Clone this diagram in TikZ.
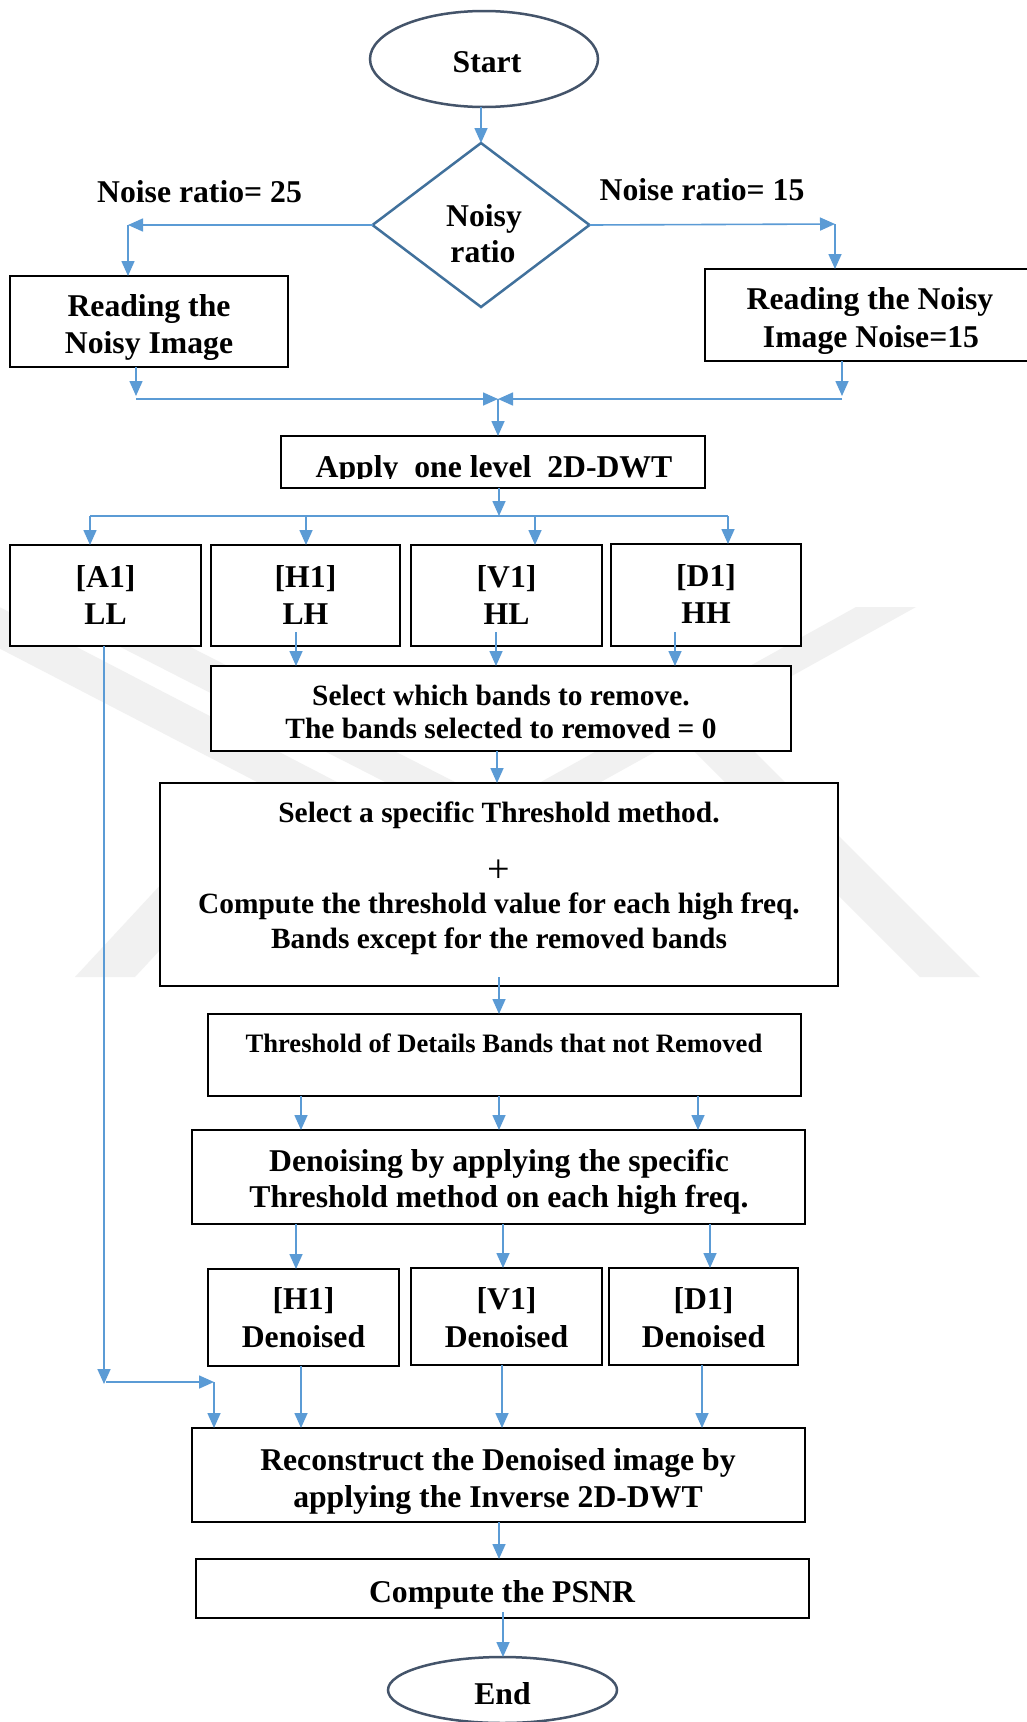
\documentclass[tikz,border=0pt]{standalone}
\usepackage{fontspec}
\setmainfont{Liberation Serif}
\usetikzlibrary{arrows.meta,shapes.geometric}

\definecolor{flowblue}{HTML}{5B9BD5}
\definecolor{ovalline}{HTML}{44546A}
\definecolor{decline}{HTML}{41719C}
\definecolor{wmgray}{HTML}{F1F1F1}

\newcommand{\szmain}{\fontsize{31.7}{37}\selectfont}
\newcommand{\szsel}{\fontsize{29.4}{34}\selectfont}
\newcommand{\szdet}{\fontsize{26.6}{31}\selectfont}
\newcommand{\szplus}{\fontsize{40}{44}\selectfont}

\begin{document}
\begin{tikzpicture}[x=1pt,y=-1pt,
  box/.style={draw=black, line width=2.4pt, fill=white, inner sep=0pt, outer sep=0pt},
  oval/.style={ellipse, draw=ovalline, line width=2.5pt, fill=white, inner sep=0pt, outer sep=0pt},
  decision/.style={diamond, draw=decline, line width=2.5pt, fill=white, inner sep=0pt, outer sep=0pt},
  txt/.style={font=\bfseries\szmain, inner sep=0pt, anchor=base},
  seltxt/.style={txt, font=\bfseries\szsel},
  dettxt/.style={txt, font=\bfseries\szdet},
  plustxt/.style={txt, font=\mdseries\szplus},
  flow/.style={draw=flowblue, line width=1.6pt, -{Triangle[length=15pt,width=13pt]}},
  flowline/.style={draw=flowblue, line width=1.6pt},
  wm/.style={fill=wmgray, draw=none}]

\useasboundingbox (0,0) rectangle (1026,1722);
\fill[white] (0,0) rectangle (1026,1722);

% faint background emblem
\fill[wm] (-94,600) -- (-14,600) -- (339,783) -- (259,783) -- cycle;
\fill[wm] (42,607) -- (112,607) -- (457,783) -- (387,783) -- cycle;
\fill[wm] (75,977) -- (135,977) -- (315,783) -- (255,783) -- cycle;
\fill[wm] (856,607) -- (916,607) -- (599,783) -- (539,783) -- cycle;
\fill[wm] (694,751) -- (754,751) -- (980,977) -- (920,977) -- cycle;

% terminals and decision
\node[oval, minimum width=228pt, minimum height=96pt] (start) at (484,59) {};
\node[decision, minimum width=217pt, minimum height=164pt] (ratio) at (481,225) {};
\node[oval, minimum width=229pt, minimum height=66pt] (end) at (502.5,1690) {};

% process boxes
\node[box, minimum width=278pt, minimum height=91pt] (readL) at (149,321.5) {};
\node[box, minimum width=325pt, minimum height=92pt] (readR) at (867.5,315) {};
\node[box, minimum width=424pt, minimum height=52pt] (apply) at (493,462) {};
\node[box, minimum width=191pt, minimum height=101pt] (bA) at (105.5,595.5) {};
\node[box, minimum width=189pt, minimum height=101pt] (bH) at (305.5,595.5) {};
\node[box, minimum width=191pt, minimum height=101pt] (bV) at (506.5,595.5) {};
\node[box, minimum width=190pt, minimum height=102pt] (bD) at (706,595) {};
\node[box, minimum width=580pt, minimum height=85pt] (sel) at (501,708.5) {};
\node[box, minimum width=678pt, minimum height=203pt] (thr) at (499,884.5) {};
\node[box, minimum width=593pt, minimum height=82pt] (det) at (504.5,1055) {};
\node[box, minimum width=613pt, minimum height=94pt] (den) at (498.5,1177) {};
\node[box, minimum width=191pt, minimum height=97pt] (dH) at (303.5,1317.5) {};
\node[box, minimum width=191pt, minimum height=97pt] (dV) at (506.5,1316.5) {};
\node[box, minimum width=189pt, minimum height=97pt] (dD) at (703.5,1316.5) {};
\node[box, minimum width=613pt, minimum height=94pt] (rec) at (498.5,1475) {};
\node[box, minimum width=613pt, minimum height=59pt] (psnr) at (502.5,1588.5) {};

% texts
\node[txt] (tStart) at (487,72) {Start};
\node[txt] (tRatioA) at (484,226) {Noisy};
\node[txt] (tRatioB) at (483,262) {ratio};
\node[txt] (t25) at (199.5,202) {Noise ratio= 25};
\node[txt] (t15) at (702,200) {Noise ratio= 15};
\node[txt] (tReadLA) at (149,316) {Reading the};
\node[txt] (tReadLB) at (149,353) {Noisy Image};
\node[txt] (tReadRA) at (870,309) {Reading the Noisy};
\node[txt] (tReadRB) at (871,347) {Image Noise=15};
\begin{scope}
  \clip (281,440) rectangle (705,478);
  \node[txt] (tApply) at (494,477) {Apply\ \ one level\ \ 2D-DWT};
\end{scope}
\node[txt] (tAa) at (105.5,587) {[A1]};
\node[txt] (tAb) at (105.5,624) {LL};
\node[txt] (tHa) at (305.5,587) {[H1]};
\node[txt] (tHb) at (305.5,624) {LH};
\node[txt] (tVa) at (506.5,587) {[V1]};
\node[txt] (tVb) at (506.5,624) {HL};
\node[txt] (tDa) at (706,586) {[D1]};
\node[txt] (tDb) at (706,623) {HH};
\node[seltxt] (tSelA) at (501,705) {Select which bands to remove.};
\node[seltxt] (tSelB) at (501,738) {The bands selected to removed = 0};
\node[seltxt] (tThrA) at (499,822) {Select a specific Threshold method.};
\node[plustxt] (tThrP) at (499,882) {+};
\node[seltxt] (tThrB) at (499,913) {Compute the threshold value for each high freq.};
\node[seltxt] (tThrC) at (499,948) {Bands except for the removed bands};
\node[dettxt] (tDet) at (504,1052) {Threshold of Details Bands that not Removed};
\node[txt] (tDenA) at (499,1171) {Denoising by applying the specific};
\node[txt] (tDenB) at (499,1207) {Threshold method on each high freq.};
\node[txt] (tdHa) at (303.5,1309) {[H1]};
\node[txt] (tdHb) at (303.5,1347) {Denoised};
\node[txt] (tdVa) at (506.5,1309) {[V1]};
\node[txt] (tdVb) at (506.5,1347) {Denoised};
\node[txt] (tdDa) at (703.5,1309) {[D1]};
\node[txt] (tdDb) at (703.5,1347) {Denoised};
\node[txt] (tRecA) at (498,1470) {Reconstruct the Denoised image by};
\node[txt] (tRecB) at (498,1507) {applying the Inverse 2D-DWT};
\node[txt] (tPsnr) at (502,1602) {Compute the PSNR};
\node[txt] (tEnd) at (502.5,1704) {End};

% junction points
\coordinate (lcorner) at (128,225);
\coordinate (rcorner) at (835,224);
\coordinate (mergeL) at (136,399);
\coordinate (mergeR) at (842,399);
\coordinate (merge) at (498,399);
\coordinate (split) at (499,516);
\coordinate (colA) at (90,516);
\coordinate (colH) at (306,516);
\coordinate (colV) at (535,516);
\coordinate (colD) at (728,516);
\coordinate (hOut) at (296,632);
\coordinate (vOut) at (496,632);
\coordinate (dOut) at (675,632);
\coordinate (llEnd) at (104,1384);
\coordinate (llFrom) at (106,1382);
\coordinate (llJoin) at (214,1382);
\coordinate (thrOut) at (499,977);
\coordinate (psOut) at (503,1612);

% connectors
\draw[flow] (start.south -| ratio.north) -- (ratio.north);
\draw[flow] (ratio.west) -- (lcorner);
\draw[flow] (lcorner) -- (lcorner |- readL.north);
\draw[flow] (ratio.east) -- (rcorner);
\draw[flow] (rcorner) -- (rcorner |- readR.north);
\draw[flow] (readL.south -| mergeL) -- ([yshift=3pt]mergeL);
\draw[flow] (readR.south -| mergeR) -- ([yshift=3pt]mergeR);
\draw[flow] (mergeL) -- (merge);
\draw[flow] (mergeR) -- (merge);
\draw[flow] (merge) -- (apply.north -| merge);
\draw[flow] (apply.south -| split) -- (split);
\draw[flowline] (colA) -- (colD);
\draw[flow] (colA) -- (bA.north -| colA);
\draw[flow] (colH) -- (bH.north -| colH);
\draw[flow] (colV) -- (bV.north -| colV);
\draw[flow] (colD) -- (bD.north -| colD);
\draw[flow] (hOut) -- (sel.north -| hOut);
\draw[flow] (vOut) -- (sel.north -| vOut);
\draw[flow] (dOut) -- (sel.north -| dOut);
\draw[flow] (bA.south -| llEnd) -- (llEnd);
\draw[flow] (llFrom) -- (llJoin);
\draw[flow] (llJoin) -- (rec.north -| llJoin);
\draw[flow] (sel.south -| 497,0) -- (thr.north -| 497,0);
\draw[flow] (thrOut) -- (det.north -| thrOut);
\draw[flow] (det.south -| 301,0) -- (den.north -| 301,0);
\draw[flow] (det.south -| 499,0) -- (den.north -| 499,0);
\draw[flow] (det.south -| 698,0) -- (den.north -| 698,0);
\draw[flow] (den.south -| 296,0) -- (dH.north -| 296,0);
\draw[flow] (den.south -| 503,0) -- (dV.north -| 503,0);
\draw[flow] (den.south -| 710,0) -- (dD.north -| 710,0);
\draw[flow] (dH.south -| 301,0) -- (rec.north -| 301,0);
\draw[flow] (dV.south -| 502,0) -- (rec.north -| 502,0);
\draw[flow] (dD.south -| 702,0) -- (rec.north -| 702,0);
\draw[flow] (rec.south -| 499,0) -- (psnr.north -| 499,0);
\draw[flow] (psOut) -- (end.north -| psOut);
\end{tikzpicture}
\end{document}
